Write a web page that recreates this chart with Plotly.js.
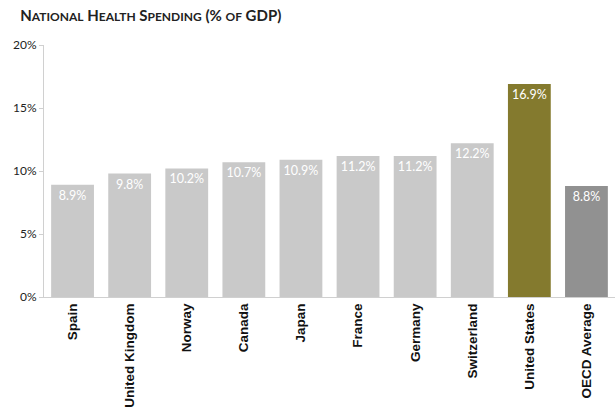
<!DOCTYPE html>
<html><head><meta charset="utf-8">
<script src="https://cdn.plot.ly/plotly-3.0.1.min.js"></script>
<style>html,body{margin:0;padding:0;background:#fff}#chart{width:615px;height:417px}</style>
</head><body><div id="chart"></div>
<script>
const categories = ["Spain","United Kingdom","Norway","Canada","Japan","France","Germany","Switzerland","United States","OECD Average"];
const values = [8.9, 9.8, 10.2, 10.7, 10.9, 11.2, 11.2, 12.2, 16.9, 8.8];
const labels = ["8.9%","9.8%","10.2%","10.7%","10.9%","11.2%","11.2%","12.2%","16.9%","8.8%"];
const tickVals = [0,5,10,15,20];
const tickText = ["0%","5%","10%","15%","20%"];
const colors = categories.map(c => c === "United States" ? "#847a2e" : (c === "OECD Average" ? "#919191" : "#c9c9c9"));

const sc = (s) => s.split(" ").map(w => {
  if (/^[A-Z]+\)?$/.test(w) || /^\(/.test(w)) return w;
  if (/^[A-Z]/.test(w)) return w[0] + '<span style="font-size:12px">' + w.slice(1).toUpperCase() + '</span>';
  return '<span style="font-size:12px">' + w.toUpperCase() + '</span>';
}).join(" ");

const trace = {
  type: "bar", x: categories, y: values, text: labels,
  textposition: "inside", insidetextanchor: "end", constraintext: "none",
  textfont: {color: "#ffffff", size: 12.5, family: "Lato, sans-serif"},
  marker: {color: colors}, hoverinfo: "none", cliponaxis: false
};
const layout = {
  width: 615, height: 417,
  margin: {l: 44, r: 0, t: 45, b: 120},
  paper_bgcolor: "#fff", plot_bgcolor: "#fff",
  bargap: 0.25,
  showlegend: false,
  title: {text: "<b>" + sc("National Health Spending (% of GDP)") + "</b>", x: 0.033, xanchor: "left", y: 0.962, yanchor: "middle",
    font: {family: "Lato, sans-serif", size: 15, color: "#222"}},
  xaxis: {tickangle: -90, tickfont: {family: "Liberation Sans, Arial, sans-serif", size: 13.5, color: "#111"},
    showline: true, linecolor: "#d0d0d0", linewidth: 1, ticks: "", showgrid: false, fixedrange: true,
    tickprefix: "<b>", ticksuffix: "</b>"},
  yaxis: {range: [0, 20], tickvals: tickVals, ticktext: tickText, showgrid: false, zeroline: false,
    showline: true, linecolor: "#d0d0d0", linewidth: 1, ticks: "outside", ticklen: 4, tickcolor: "#d0d0d0",
    tickfont: {family: "Lato, sans-serif", size: 12, color: "#222"}, fixedrange: true}
};
Plotly.newPlot("chart", [trace], layout, {displayModeBar: false, staticPlot: true});
</script></body></html>
